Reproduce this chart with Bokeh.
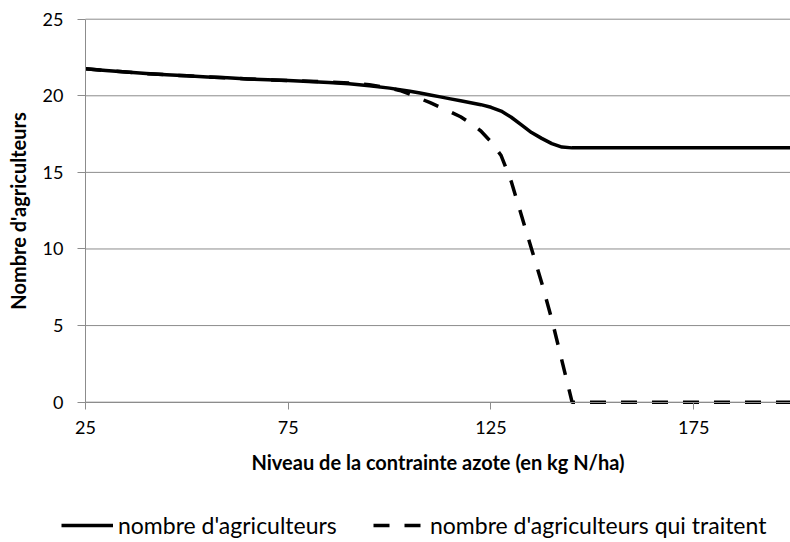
from bokeh.plotting import figure
from bokeh.models import Legend, LegendItem, FixedTicker, Range1d, LinearAxis
from bokeh.embed import file_html
from bokeh.resources import INLINE

# Data
x_vals = [25, 30, 35, 40, 45, 50, 55, 60, 65, 70, 75, 80, 85, 90, 95,
          100, 102.5, 105, 107.5, 110, 112.5, 115, 117.5, 120, 122.5, 125,
          127.5, 130, 132.5, 135, 137.5, 140, 142.5, 145,
          150, 155, 160, 165, 170, 175, 180, 185, 190, 195, 199]
nb_agriculteurs = [21.76, 21.65, 21.55, 21.45, 21.37, 21.30, 21.23, 21.17, 21.10,
                   21.04, 20.99, 20.93, 20.86, 20.78, 20.65,
                   20.50, 20.40, 20.30, 20.18, 20.05, 19.93, 19.80, 19.68, 19.55,
                   19.42, 19.25, 19.00, 18.60, 18.10, 17.60, 17.22, 16.88, 16.65,
                   16.60,
                   16.60, 16.60, 16.60, 16.60, 16.60, 16.60, 16.60, 16.60, 16.60,
                   16.60, 16.60]
nb_traitent = [21.76, 21.65, 21.55, 21.45, 21.37, 21.30, 21.23, 21.17, 21.10,
               21.04, 20.99, 20.95, 20.90, 20.84, 20.72,
               20.50, 20.35, 20.10, 19.82, 19.55, 19.25, 18.95, 18.63, 18.20,
               17.70, 17.00, 16.10, 14.40, 12.20, 10.00, 7.80, 5.40, 2.70,
               0.0,
               0.0, 0.0, 0.0, 0.0, 0.0, 0.0, 0.0, 0.0, 0.0, 0.0, 0.0]
x_ticks = [25, 75, 125, 175]
y_ticks = [0, 5, 10, 15, 20, 25]
serie_labels = ["nombre d'agriculteurs", "nombre d'agriculteurs qui traitent"]
x_title = "Niveau de la contrainte azote (en kg N/ha)"
y_title = "Nombre d'agriculteurs"

X_MIN, X_MAX = 25, 198.86
Y_MIN, Y_MAX = 0, 25

FONT = "Lato"
GRAY = "#8c8c8c"

# The frame covers the whole canvas; axes are pinned at x=25 and y=0 so the
# legend (inside the frame) can sit below the axis titles.
p = figure(width=790, height=542, output_backend="svg", toolbar_location=None,
           x_range=Range1d(4.04, X_MAX), y_range=Range1d(-9.16, 26.22),
           x_axis_type=None, y_axis_type=None,
           min_border_left=0, min_border_right=0, min_border_top=0,
           min_border_bottom=0)
p.outline_line_color = None
p.grid.visible = False

# horizontal grid lines from the axis to the right edge
p.segment(x0=[X_MIN] * len(y_ticks), x1=[X_MAX] * len(y_ticks),
          y0=y_ticks, y1=y_ticks, line_color=GRAY, line_width=1)

r1 = p.line(x_vals, nb_agriculteurs, line_color="black", line_width=3.5,
            line_join="round")
r2 = p.line(x_vals, nb_traitent, line_color="black", line_width=3.5,
            line_dash="16 15", line_join="round")

xaxis = LinearAxis(fixed_location=Y_MIN, bounds=(X_MIN, X_MAX),
                   ticker=FixedTicker(ticks=x_ticks), axis_label=x_title)
yaxis = LinearAxis(fixed_location=X_MIN, bounds=(Y_MIN, Y_MAX),
                   ticker=FixedTicker(ticks=y_ticks), axis_label=y_title)
for ax in (xaxis, yaxis):
    ax.axis_line_color = GRAY
    ax.major_tick_line_color = GRAY
    ax.minor_tick_line_color = None
    ax.major_tick_in = 0
    ax.major_label_text_font = FONT
    ax.major_label_text_font_size = "18px"
    ax.major_label_text_color = "black"
    ax.axis_label_text_font = FONT
    ax.axis_label_text_font_style = "bold"
    ax.axis_label_text_font_size = "20px"
    ax.axis_label_text_color = "black"
xaxis.major_tick_out = 7
yaxis.major_tick_out = 8
xaxis.major_label_standoff = 12
yaxis.major_label_standoff = 14
xaxis.axis_label_standoff = 12
yaxis.axis_label_standoff = 10
p.add_layout(xaxis, "below")
p.add_layout(yaxis, "left")

common = dict(orientation="horizontal", border_line_color=None,
              background_fill_alpha=0, padding=0, margin=0, spacing=0,
              glyph_width=52, glyph_height=20, label_height=20,
              label_standoff=5, label_text_font=FONT,
              label_text_font_size="23px", label_text_color="black")
p.add_layout(Legend(items=[LegendItem(label=serie_labels[0], renderers=[r1])],
                    location=(61, 3), **common), "center")
p.add_layout(Legend(items=[LegendItem(label=serie_labels[1], renderers=[r2])],
                    location=(373, 3), **common), "center")

open("out.html", "w").write(file_html(p, INLINE))
